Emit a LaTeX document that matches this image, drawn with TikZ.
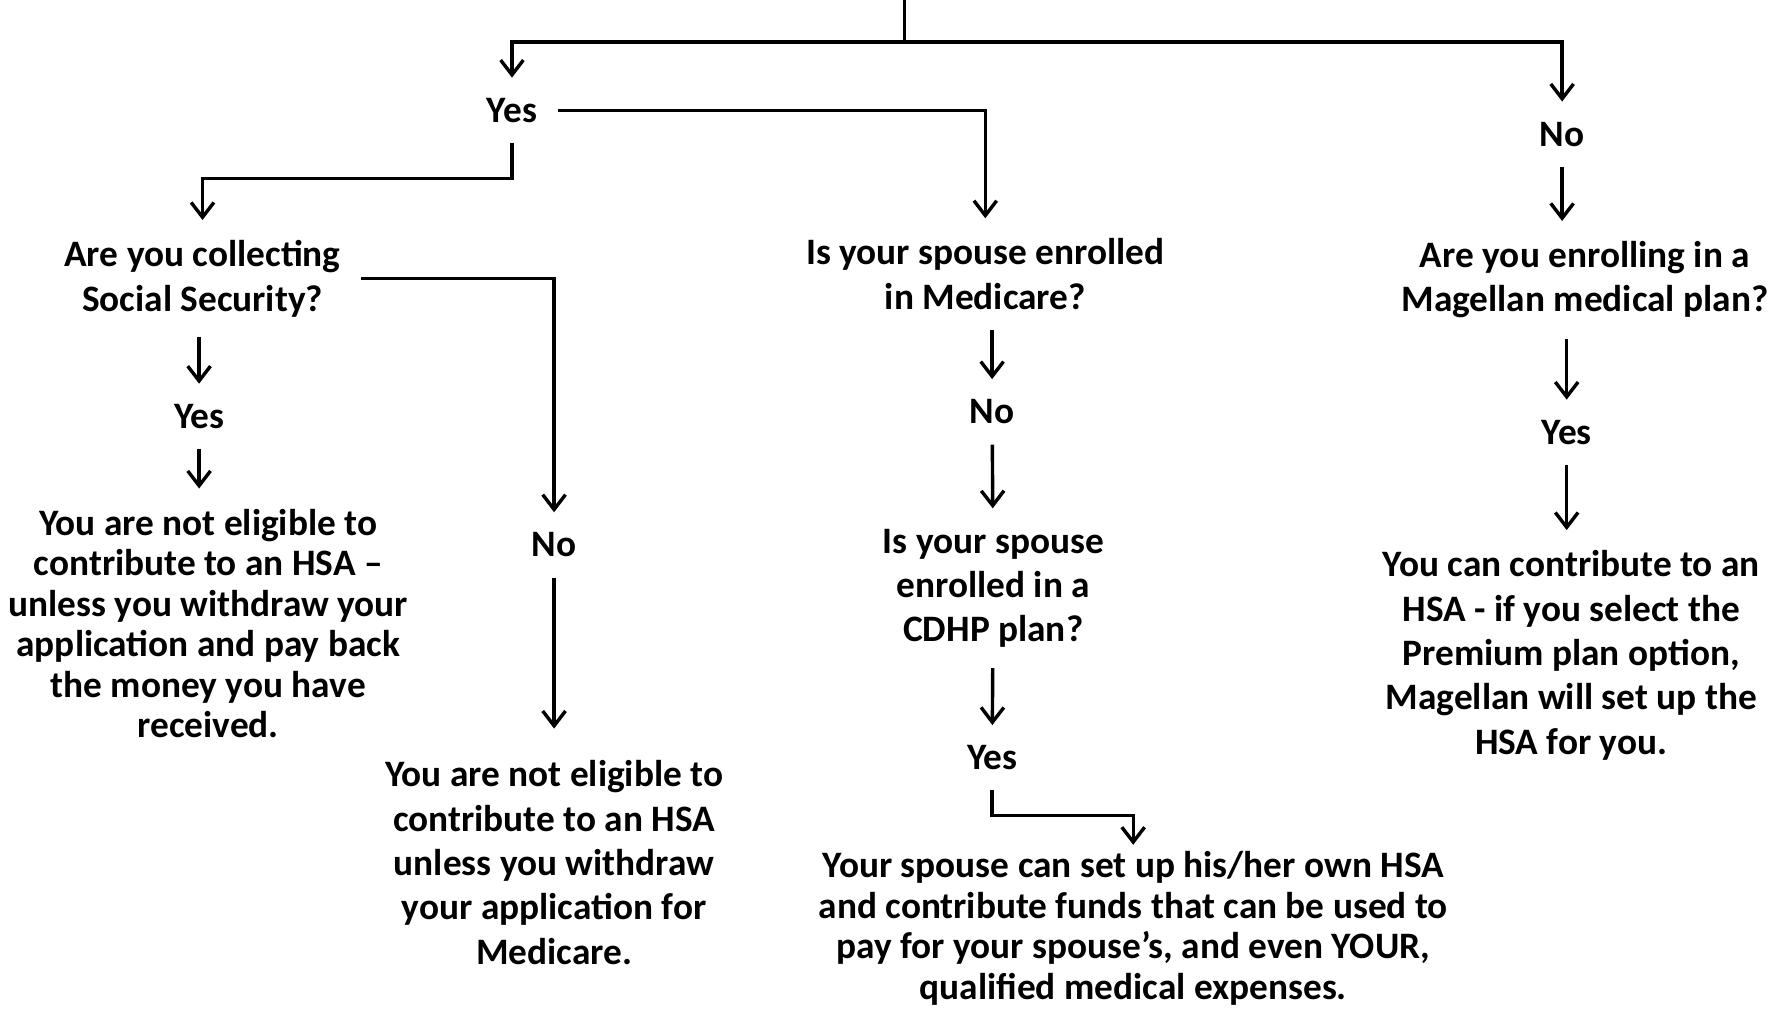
\documentclass[tikz,border=0pt]{standalone}
\usepackage{fontspec}
\setmainfont{Carlito}
\usetikzlibrary{arrows.meta, positioning, calc}

\begin{document}
\begin{tikzpicture}[x=0.5pt, y=-0.5pt,
    every node/.style={font=\bfseries\fontsize{16.4}{19.5}\selectfont, align=center, inner sep=0pt, outer sep=9pt},
    tight/.style={font=\bfseries\fontsize{16.4}{17.8}\selectfont},
    link/.style={line width=1.5pt},
    arr/.style={link, -{Straight Barb[length=6.5pt, width=10pt]}}]
    \useasboundingbox (0,0) rectangle (1568,886);

    \node (yes1) at (450,97) {Yes};
    \node (no1) at (1373,118) {No};
    \node (q1) at (178,245) {Are you collecting\\Social Security?};
    \node (q2) at (866,241) {Is your spouse enrolled\\in Medicare?};
    \node (q4) at (1393,246) {Are you enrolling in a\\Magellan medical plan?};
    \node (yes2) at (175,366) {Yes};
    \node (no3) at (872,362) {No};
    \node (yes3) at (1377,380) {Yes};
    \node[tight] (res1) at (183,548) {You are not eligible to\\contribute to an HSA --\\unless you withdraw your\\application and pay back\\the money you have\\received.};
    \node (no2) at (487,479) {No};
    \node (q3) at (873,517) {Is your spouse\\enrolled in a\\CDHP plan?};
    \node (res4) at (1381,576) {You can contribute to an\\HSA - if you select the\\Premium plan option,\\Magellan will set up the\\HSA for you.};
    \node (yes4) at (872,666) {Yes};
    \node (res2) at (487,758) {You are not eligible to\\contribute to an HSA\\unless you withdraw\\your application for\\Medicare.};
    \node[tight, outer sep=3pt] (res3) at (996,816) {Your spouse can set up his/her own HSA\\and contribute funds that can be used to\\pay for your spouse’s, and even YOUR,\\qualified medical expenses.};

    \coordinate (top) at (795,0);
    \coordinate (split) at (795,37);
    \coordinate (b1) at (450,157);
    \coordinate (b2) at (872,717);

    \draw[link] (top) -- (split);
    \draw[arr] (split) -| (yes1);
    \draw[arr] (split) -| (no1);
    \draw[arr] (yes1) -| (q2);
    \draw[arr] (yes1) -- (b1) -| (q1);
    \draw[arr] (q1) -| (no2);
    \draw[arr] (yes2 |- q1.south) -- (yes2);
    \draw[arr] (yes2) -- (yes2 |- res1.north);
    \draw[arr, shorten >=5pt] (no2) -- (res2);
    \draw[arr] (no3 |- q2.south) -- (no3);
    \draw[arr] (no3) -- (q3);
    \draw[arr] (q3) -- (yes4);
    \draw[arr] (yes4) -- (b2) -| (res3);
    \draw[arr] (no1) -- (no1 |- q4.north);
    \draw[arr] (yes3 |- q4.south) -- (yes3);
    \draw[arr] (yes3) -- (yes3 |- res4.north);
\end{tikzpicture}
\end{document}
